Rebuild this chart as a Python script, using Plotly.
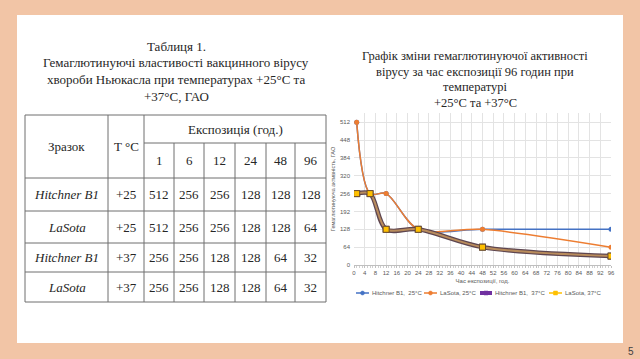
import plotly.graph_objects as go

# ---------------- data ----------------
hours = [1, 6, 12, 24, 48, 96]
hitchner_25 = [512, 256, 256, 128, 128, 128]
lasota_25 = [512, 256, 256, 128, 128, 64]
hitchner_37 = [256, 256, 128, 128, 64, 32]
lasota_37 = [256, 256, 128, 128, 64, 32]

row_names = ["Hitchner B1", "LaSota", "Hitchner B1", "LaSota"]
row_temps = ["+25", "+25", "+37", "+37"]
row_values = [hitchner_25, lasota_25, hitchner_37, lasota_37]

series_names = ["Hitchner B1,  25°C", "LaSota, 25°C", "Hitchner B1,  37°C", "LaSota, 37°C"]
x_ticks = list(range(0, 97, 4))
y_ticks = [0, 64, 128, 192, 256, 320, 384, 448, 512]

W, H = 640, 359
PEACH = "#F2C5A6"

def px(x):
    return x / W

def py(y):
    return 1 - y / H

fig = go.Figure()

# ---------------- chart ----------------
BLUE, ORANGE, PURPLE, YELLOW = "#4472C4", "#ED7D31", "#7030A0", "#FFC000"

fig.add_trace(go.Scatter(x=hours, y=hitchner_25, mode="lines+markers", name=series_names[0],
                         line=dict(color=BLUE, width=1.5, shape="spline", smoothing=0.9),
                         marker=dict(symbol="circle", size=5, color=BLUE)))
fig.add_trace(go.Scatter(x=hours, y=lasota_25, mode="lines+markers", name=series_names[1],
                         line=dict(color=ORANGE, width=1.5, shape="spline", smoothing=0.9),
                         marker=dict(symbol="circle", size=5, color=ORANGE)))
fig.add_trace(go.Scatter(x=hours, y=hitchner_37, mode="lines+markers", name=series_names[2],
                         line=dict(color="#5E4650", width=4.5, shape="spline", smoothing=0.9),
                         marker=dict(symbol="square", size=7, color="#5E4650")))
fig.add_trace(go.Scatter(x=hours, y=lasota_37, mode="lines+markers", name=series_names[3],
                         line=dict(color="#B98C5C", width=2, shape="spline", smoothing=0.9),
                         marker=dict(symbol="square", size=6, color=YELLOW,
                                     line=dict(color="#6B4E2E", width=1))))

fig.update_layout(
    xaxis=dict(domain=[px(354), px(611)], range=[0, 96], tickvals=x_ticks, automargin=False,
               ticktext=[str(v) for v in x_ticks], showgrid=True, gridcolor="#E3E3E3",
               gridwidth=1, zeroline=False, showline=True, linecolor="#BFBFBF",
               ticks="outside", ticklen=2, tickcolor="#BFBFBF",
               minor=dict(dtick=1, ticks="outside", ticklen=1.5, tickcolor="#CFCFCF", showgrid=False),
               tickfont=dict(family="Liberation Sans", size=6, color="#595959"),
               title=dict(text="Час експозиції, год.", standoff=3,
                          font=dict(family="Liberation Sans", size=6, color="#595959"))),
    yaxis=dict(domain=[py(265), py(113)], range=[0, 545], tickvals=y_ticks, automargin=False,
               showgrid=True, gridcolor="#E3E3E3", gridwidth=1, zeroline=False,
               showline=False, ticks="", ticklabelstandoff=3,
               tickfont=dict(family="Liberation Sans", size=6, color="#595959"),
               title=dict(text="Гемаглютинуюча активність, ГАО", standoff=4,
                          font=dict(family="Liberation Sans", size=5.5, color="#595959"))),
)

# ---------------- manual legend ----------------
legend_items = [
    (356, 369, BLUE, 1.5, "circle", BLUE),
    (424, 437, ORANGE, 1.5, "circle", ORANGE),
    (480, 492, PURPLE, 4, "square", PURPLE),
    (549, 562, YELLOW, 1.5, "square", YELLOW),
]
shapes = []
annotations = []
LY = 293
for (x0, x1, col, lw, sym, mcol), name in zip(legend_items, series_names):
    shapes.append(dict(type="line", xref="paper", yref="paper", x0=px(x0), x1=px(x1),
                       y0=py(LY), y1=py(LY), line=dict(color=col, width=lw)))
    cx = (x0 + x1) / 2
    r = 2
    shapes.append(dict(type="circle" if sym == "circle" else "rect", xref="paper", yref="paper",
                       x0=px(cx - r), x1=px(cx + r), y0=py(LY - r), y1=py(LY + r),
                       fillcolor=mcol, line=dict(color=mcol, width=0.5)))
    annotations.append(dict(x=px(x1 + 1), y=py(LY), xref="paper", yref="paper", text=name,
                            showarrow=False, xanchor="left", yanchor="middle",
                            font=dict(family="Liberation Sans", size=6, color="#595959")))

# ---------------- background panel ----------------
shapes.insert(0, dict(type="rect", xref="paper", yref="paper", x0=px(17), x1=px(623),
                      y0=py(343), y1=py(15), fillcolor="white", line=dict(width=0), layer="below"))

# ---------------- titles ----------------
SERIF = "Liberation Serif"
TXT = "#262626"
left_title = ["Таблиця 1.", "Гемаглютинуючі властивості вакцинного вірусу",
              "хвороби Ньюкасла при температурах +25°C та", "+37°C, ГАО"]
for i, t in enumerate(left_title):
    annotations.append(dict(x=px(176), y=py(46 + i * 16.7), xref="paper", yref="paper", text=t,
                            showarrow=False, xanchor="center", yanchor="middle",
                            font=dict(family=SERIF, size=13, color=TXT)))
right_title = ["Графік зміни гемаглютинуючої активності", "вірусу за час експозиції 96 годин при",
               "температурі", "+25°C та +37°C"]
for i, t in enumerate(right_title):
    annotations.append(dict(x=px(475), y=py(56 + i * 15.7), xref="paper", yref="paper", text=t,
                            showarrow=False, xanchor="center", yanchor="middle",
                            font=dict(family=SERIF, size=12.5, color=TXT)))

# ---------------- table ----------------
col_x = [25, 108, 144, 174, 204, 235, 266, 295, 326]
row_y = [115, 143, 178, 211, 243, 272, 302]
LC = "#6E6E6E"

def hline(y, x0, x1):
    shapes.append(dict(type="line", xref="paper", yref="paper", x0=px(x0), x1=px(x1),
                       y0=py(y), y1=py(y), line=dict(color=LC, width=1)))

def vline(x, y0, y1):
    shapes.append(dict(type="line", xref="paper", yref="paper", x0=px(x), x1=px(x),
                       y0=py(y0), y1=py(y1), line=dict(color=LC, width=1)))

hline(row_y[0], col_x[0], col_x[-1])
hline(row_y[1], col_x[2], col_x[-1])
for y in row_y[2:]:
    hline(y, col_x[0], col_x[-1])
for i, x in enumerate(col_x):
    if i <= 2 or i == len(col_x) - 1:
        vline(x, row_y[0], row_y[-1])
    else:
        vline(x, row_y[1], row_y[-1])

def cell_text(x, y, text, italic=False, size=13):
    annotations.append(dict(x=px(x), y=py(y), xref="paper", yref="paper",
                            text=f"<i>{text}</i>" if italic else text,
                            showarrow=False, xanchor="center", yanchor="middle",
                            font=dict(family=SERIF, size=size, color=TXT)))

cell_text((col_x[0] + col_x[1]) / 2, (row_y[0] + row_y[2]) / 2, "Зразок")
cell_text((col_x[1] + col_x[2]) / 2, (row_y[0] + row_y[2]) / 2, "T °C")
cell_text((col_x[2] + col_x[-1]) / 2, (row_y[0] + row_y[1]) / 2, "Експозиція (год.)")
for j, h in enumerate(hours):
    cell_text((col_x[3 + j - 1] + col_x[3 + j]) / 2, (row_y[1] + row_y[2]) / 2, str(h))
for i, (nm, tp, vals) in enumerate(zip(row_names, row_temps, row_values)):
    yc = (row_y[2 + i] + row_y[3 + i]) / 2
    cell_text((col_x[0] + col_x[1]) / 2, yc, nm, italic=True)
    cell_text((col_x[1] + col_x[2]) / 2, yc, tp)
    for j, v in enumerate(vals):
        cell_text((col_x[2 + j] + col_x[3 + j]) / 2, yc, str(v))

# page number
annotations.append(dict(x=px(631), y=py(351), xref="paper", yref="paper", text="5",
                        showarrow=False, xanchor="center", yanchor="middle",
                        font=dict(family="Liberation Sans", size=10, color="#404040")))

fig.update_layout(width=W, height=H, margin=dict(l=0, r=0, t=0, b=0),
                  paper_bgcolor=PEACH, plot_bgcolor="white", showlegend=False,
                  shapes=shapes, annotations=annotations)

fig.write_html("out.html", config={"displayModeBar": False},
               post_script="document.body.style.margin='0';document.body.style.overflow='hidden';")
